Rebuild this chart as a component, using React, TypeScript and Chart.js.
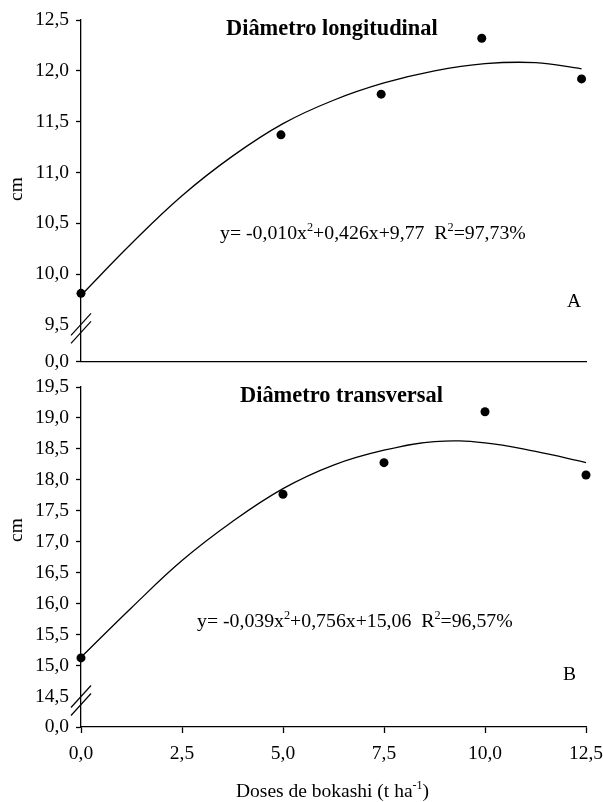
import React, { useEffect, useRef } from 'react';
import { Chart, registerables } from 'chart.js';
Chart.register(...registerables);

// ---------- data ----------
const xTicks = [0, 2.5, 5, 7.5, 10, 12.5];

// Panel A: Diâmetro longitudinal
const pointsXA = [0, 4.95, 7.43, 9.92, 12.39];
const longObs = [9.81, 11.37, 11.77, 12.32, 11.92];
const curveXA = [0, 1.25, 2.5, 3.75, 5, 6.25, 7.5, 8.75, 10, 11.25, 12.39];
const curveA = [9.79, 10.3, 10.77, 11.16, 11.48, 11.71, 11.88, 12.0, 12.07, 12.08, 12.02];
const yTicksA = [9.5, 10, 10.5, 11, 11.5, 12, 12.5];
const breakMinA = 9.137;

// Panel B: Diâmetro transversal
const pointsXB = [0, 5, 7.5, 10, 12.5];
const transObs = [15.13, 17.77, 18.28, 19.1, 18.08];
const curveXB = [0, 1.25, 2.5, 3.75, 5, 6.25, 7.5, 8.75, 10, 11.25, 12.5];
const curveB = [15.14, 15.94, 16.7, 17.33, 17.86, 18.24, 18.48, 18.62, 18.6, 18.46, 18.28];
const yTicksB = [14.5, 15, 15.5, 16, 16.5, 17, 17.5, 18, 18.5, 19, 19.5];
const breakMinB = 14.016;

const FONT = "'Liberation Serif', 'Times New Roman', serif";
const FS = 19.5;
const FS_EQ = 19.8;

type Seg = [string, boolean?];

function drawRich(ctx: CanvasRenderingContext2D, x: number, y: number, segs: Seg[], size: number) {
  let cx = x;
  ctx.textAlign = 'left';
  ctx.textBaseline = 'alphabetic';
  for (const [t, sup] of segs) {
    const s = sup ? size * 0.62 : size;
    ctx.font = `${s}px ${FONT}`;
    ctx.fillText(t, cx, sup ? y - size * 0.4 : y);
    cx += ctx.measureText(t).width;
  }
}

const fmt = (v: number) => v.toFixed(1).replace('.', ',');

interface PanelOpts {
  pointsX: number[];
  obs: number[];
  curveX: number[];
  curve: number[];
  yTicks: number[];
  yMin: number;
  showXLabels: boolean;
  padding: { top: number; right: number; bottom: number; left: number };
  xHeight: number;
  overlay: (chart: any) => void;
}

function makeChart(canvas: HTMLCanvasElement, o: PanelOpts) {
  const overlayPlugin = {
    id: 'overlay',
    afterDraw(chart: any) {
      const ctx = chart.ctx as CanvasRenderingContext2D;
      ctx.save();
      ctx.fillStyle = '#000';
      ctx.strokeStyle = '#000';
      // axis break marks
      const ys = chart.scales.y;
      const ax = chart.chartArea.left;
      const yb = ys.getPixelForValue(o.yTicks[0]) + 3.5;
      ctx.lineWidth = 1.2;
      for (const k of [-4, 4]) {
        ctx.beginPath();
        ctx.moveTo(ax - 10, yb + k + 11);
        ctx.lineTo(ax + 10, yb + k - 11);
        ctx.stroke();
      }
      o.overlay(chart);
      ctx.restore();
    },
  };
  return new Chart(canvas, {
    type: 'line',
    data: {
      datasets: [
        {
          data: o.curveX.map((x, i) => ({ x, y: o.curve[i] })),
          borderColor: '#000',
          borderWidth: 1.3,
          pointRadius: 0,
          tension: 0.4,
          fill: false,
          clip: false,
        },
        {
          data: o.pointsX.map((x, i) => ({ x, y: o.obs[i] })),
          showLine: false,
          pointRadius: 4.5,
          pointBackgroundColor: '#000',
          pointBorderWidth: 0,
          borderColor: '#000',
          clip: false,
        },
      ],
    } as any,
    options: {
      responsive: false,
      animation: false,
      devicePixelRatio: 1,
      layout: { padding: o.padding, autoPadding: false },
      plugins: { legend: { display: false }, tooltip: { enabled: false }, title: { display: false } },
      scales: {
        x: {
          type: 'linear',
          min: 0,
          max: 12.5,
          afterBuildTicks: (s: any) => {
            s.ticks = xTicks.map((v) => ({ value: v }));
          },
          afterFit: (s: any) => {
            s.height = o.xHeight;
            s.paddingLeft = 0;
            s.paddingRight = 0;
          },
          ticks: {
            display: o.showXLabels,
            color: '#000',
            font: { family: FONT, size: FS },
            padding: 9,
            maxRotation: 0,
            autoSkip: false,
            callback: (v: any) => fmt(Number(v)),
          },
          grid: {
            display: o.showXLabels,
            drawOnChartArea: false,
            tickLength: 6,
            tickColor: '#000',
            tickWidth: 1.3,
          },
          border: { display: true, color: '#000', width: 1.3 },
        },
        y: {
          type: 'linear',
          min: o.yMin,
          max: o.yTicks[o.yTicks.length - 1],
          afterBuildTicks: (s: any) => {
            s.ticks = [o.yMin, ...o.yTicks].map((v) => ({ value: v }));
          },
          afterFit: (s: any) => {
            s.width = 81;
            s.paddingTop = 0;
            s.paddingBottom = 0;
          },
          ticks: {
            color: '#000',
            font: { family: FONT, size: FS },
            padding: 7,
            autoSkip: false,
            callback: (v: any) => (Number(v) < o.yTicks[0] - 0.01 ? '0,0' : fmt(Number(v))),
          },
          grid: {
            drawOnChartArea: false,
            tickLength: 5,
            tickWidth: 1.3,
            tickColor: (c: any) => (c.tick && Math.abs(c.tick.value - o.yTicks[0]) < 0.001 ? 'rgba(0,0,0,0)' : '#000'),
          },
          border: { display: true, color: '#000', width: 1.3 },
        },
      },
    } as any,
    plugins: [overlayPlugin],
  });
}

function drawYTitle(ctx: CanvasRenderingContext2D, x: number, y: number) {
  ctx.save();
  ctx.translate(x, y);
  ctx.rotate(-Math.PI / 2);
  ctx.font = `${FS}px ${FONT}`;
  ctx.textAlign = 'center';
  ctx.textBaseline = 'middle';
  ctx.fillText('cm', 0, 0);
  ctx.restore();
}

export default function App() {
  const refA = useRef<HTMLCanvasElement>(null);
  const refB = useRef<HTMLCanvasElement>(null);

  useEffect(() => {
    const chartA = makeChart(refA.current!, {
      pointsX: pointsXA,
      obs: longObs,
      curveX: curveXA,
      curve: curveA,
      yTicks: yTicksA,
      yMin: breakMinA,
      showXLabels: false,
      padding: { top: 20, right: 17, bottom: 13.3, left: 0 },
      xHeight: 0,
      overlay: (chart: any) => {
        const ctx = chart.ctx as CanvasRenderingContext2D;
        ctx.font = `bold 22.4px ${FONT}`;
        ctx.textAlign = 'left';
        ctx.textBaseline = 'alphabetic';
        ctx.fillText('Diâmetro longitudinal', 226, 35);
        drawRich(ctx, 220, 239, [['y= -0,010x'], ['2', true], ['+0,426x+9,77  R'], ['2', true], ['=97,73%']], FS_EQ);
        ctx.font = `${FS}px ${FONT}`;
        ctx.fillText('A', 567, 307);
        drawYTitle(ctx, 17, 189);
      },
    });
    const chartB = makeChart(refB.current!, {
      pointsX: pointsXB,
      obs: transObs,
      curveX: curveXB,
      curve: curveB,
      yTicks: yTicksB,
      yMin: breakMinB,
      showXLabels: true,
      padding: { top: 12, right: 17, bottom: 0, left: 0 },
      xHeight: 75,
      overlay: (chart: any) => {
        const ctx = chart.ctx as CanvasRenderingContext2D;
        ctx.font = `bold 22.4px ${FONT}`;
        ctx.textAlign = 'left';
        ctx.textBaseline = 'alphabetic';
        ctx.fillText('Diâmetro transversal', 240, 402 - 375);
        drawRich(ctx, 197, 627 - 375, [['y= -0,039x'], ['2', true], ['+0,756x+15,06  R'], ['2', true], ['=96,57%']], FS_EQ);
        ctx.font = `${FS}px ${FONT}`;
        ctx.fillText('B', 563, 680 - 375);
        drawYTitle(ctx, 17, 530 - 375);
        drawRich(ctx, 236, 797 - 375, [['Doses de bokashi (t ha'], ['-1', true], [')']], FS);
      },
    });
    return () => {
      chartA.destroy();
      chartB.destroy();
    };
  }, []);

  return (
    <div style={{ position: 'absolute', left: 0, top: 0, width: 603, height: 802, background: '#fff' }}>
      <canvas ref={refA} width={603} height={375} style={{ position: 'absolute', left: 0, top: 0, width: 603, height: 375 }} />
      <canvas ref={refB} width={603} height={427} style={{ position: 'absolute', left: 0, top: 375, width: 603, height: 427 }} />
    </div>
  );
}
